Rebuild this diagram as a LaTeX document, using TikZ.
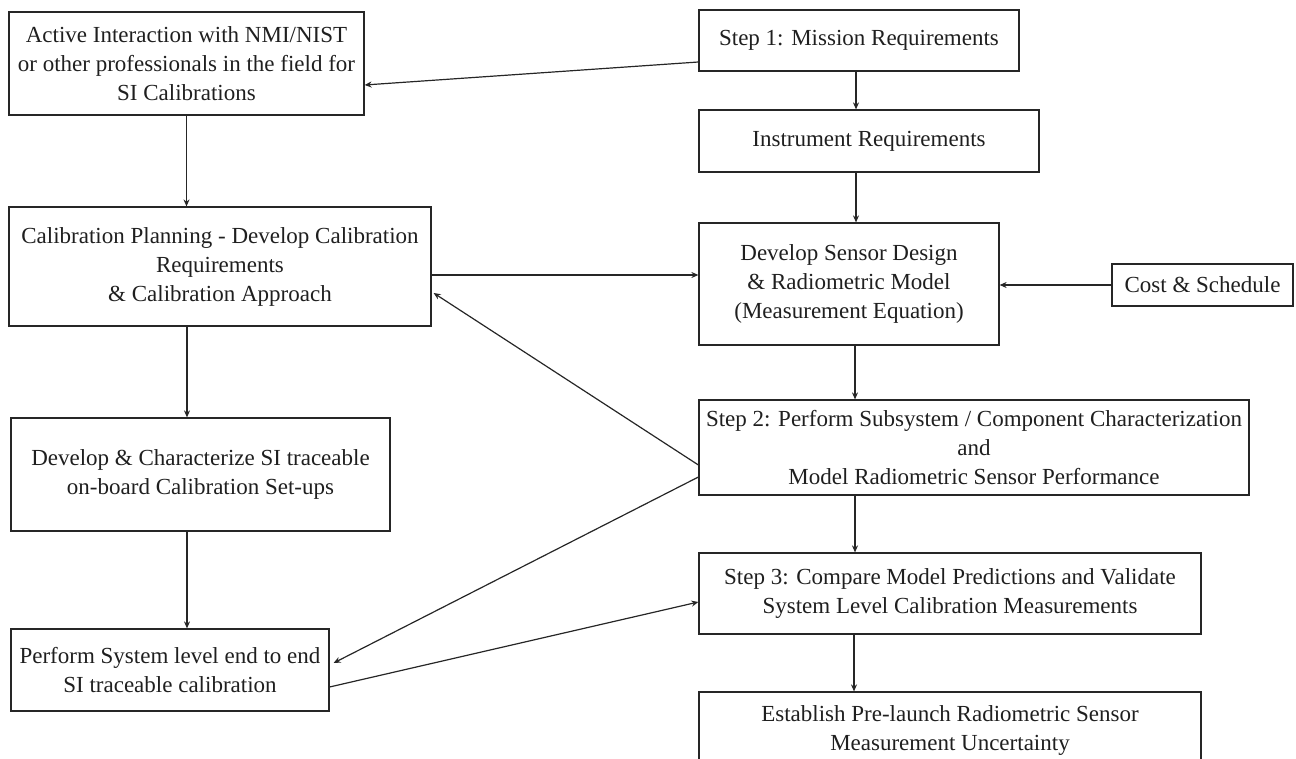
\documentclass[tikz,border=0pt]{standalone}
\usepackage{fontspec}
\setmainfont{Liberation Serif}
\usetikzlibrary{arrows.meta}
\begin{document}
\begin{tikzpicture}[x=1pt,y=-1pt,
  box/.style={draw=black!85, line width=1.2pt, align=center, inner sep=0pt,
    font=\fontsize{23}{29}\selectfont, text=black!88},
  arr/.style={draw=black!85, line width=1.2pt, -{Stealth[length=7pt,width=6pt]}}]
\useasboundingbox (0,0) rectangle (1296,759);
\clip (0,0) rectangle (1296,759);
\node[box, minimum width=355pt, minimum height=103pt] (A) at (186.5,63.5)
  {Active Interaction with NMI/NIST\\or other professionals in the field for\\SI Calibrations};
\node[box, minimum width=320pt, minimum height=61pt] (B) at (859,40.5)
  {Step 1: Mission Requirements};
\node[box, minimum width=340pt, minimum height=62pt] (C) at (869,141)
  {Instrument Requirements};
\node[box, minimum width=422pt, minimum height=119pt] (D) at (220,266.5)
  {Calibration Planning - Develop Calibration\\Requirements\\\& Calibration Approach};
\node[box, minimum width=300pt, minimum height=122pt] (E) at (849,284)
  {Develop Sensor Design\\\& Radiometric Model\\(Measurement Equation)};
\node[box, minimum width=181pt, minimum height=42pt] (F) at (1202.5,285)
  {Cost \& Schedule};
\node[box, minimum width=550pt, minimum height=95pt] (G) at (974,447.5)
  {Step 2: Perform Subsystem / Component Characterization\\and\\Model Radiometric Sensor Performance};
\node[box, minimum width=379pt, minimum height=113pt] (H) at (200.5,474.5)
  {Develop \& Characterize SI traceable\\on-board Calibration Set-ups};
\node[box, minimum width=318pt, minimum height=82pt] (I) at (170,670)
  {Perform System level end to end\\SI traceable calibration};
\node[box, minimum width=502pt, minimum height=81pt] (J) at (950,593.5)
  {Step 3: Compare Model Predictions and Validate\\System Level Calibration Measurements};
\node[box, minimum width=502pt, minimum height=110pt] (K) at (950,747) {};
\node[box, draw=none] (Kt) at (950,730)
  {Establish Pre-launch Radiometric Sensor\\Measurement Uncertainty};
% connectors
\draw[arr] ([yshift=-21.5pt]B.west) -- ([yshift=-21.5pt]A.east);
\draw[arr] ([xshift=-3pt]B.south) -- ([xshift=-3pt]B.south |- C.north);
\draw[arr] ([xshift=-13pt]C.south) -- ([xshift=-13pt]C.south |- E.north);
\draw[arr] (A.south) -- (A.south |- D.north);
\draw[arr] ([xshift=-33pt]D.south) -- ([xshift=-33pt]D.south |- H.north);
\draw[arr] ([xshift=-13.5pt]H.south) -- ([xshift=-13.5pt]H.south |- I.north);
\draw[arr] ([yshift=-8.5pt]D.east) -- ([yshift=-8.5pt]D.east -| E.west);
\draw[arr] (F.west) -- (F.west -| E.east);
\draw[arr] ([xshift=6pt]E.south) -- ([xshift=6pt]E.south |- G.north);
\draw[arr] ([xshift=-119pt]G.south) -- ([xshift=-119pt]G.south |- J.north);
\draw[arr] ([xshift=-96pt]J.south) -- ([xshift=-96pt]J.south |- K.north);
\draw[arr] ([yshift=-17.5pt]G.west) -- ([xshift=2pt,yshift=-26.5pt]D.east);
\draw[arr] ([yshift=-29.5pt]G.west) -- ([xshift=4pt,yshift=7pt]I.east);
\draw[arr] ([yshift=-17pt]I.east) -- ([yshift=-8.5pt]J.west);
\end{tikzpicture}
\end{document}
